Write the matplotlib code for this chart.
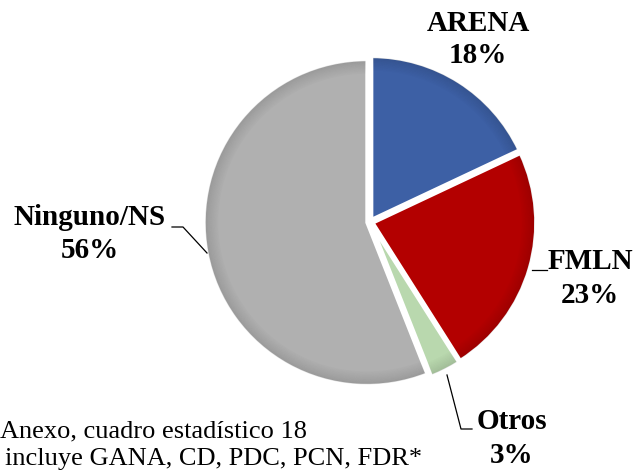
import matplotlib
matplotlib.use("Agg")
import matplotlib.pyplot as plt
from matplotlib.patches import Wedge

labels = ["ARENA", "FMLN", "Otros", "Ninguno/NS"]
values = [18, 23, 3, 56]
colors = ["#3d60a5", "#b30000", "#b9d8ae", "#b0b0b0"]
footer_lines = ["Fuente: Anexo, cuadro estadístico 18", "*Otros incluye GANA, CD, PDC, PCN, FDR*"]

W, H = 639, 472
fig = plt.figure(figsize=(W / 100, H / 100), dpi=100)
ax = fig.add_axes([0, 0, 1, 1])

def Y(y):
    return H - y

cx, cy, r = 370, 222, 163
wedges, _ = ax.pie(values, colors=colors, startangle=90, counterclock=False,
                   center=(cx, Y(cy)), radius=r, explode=[3, 3, 3, 3],
                   wedgeprops=dict(edgecolor="white", linewidth=2.5))
# soft bevel shading near the outer edge of each slice
n_rings = 10
for w in wedges:
    for k in range(n_rings):
        rr = w.r - 1.2 - k * 1.3
        rim = Wedge(w.center, rr, w.theta1 + 0.5, w.theta2 - 0.5, width=1.3,
                    facecolor="black", alpha=0.018 * (n_rings - k) / 1.5,
                    edgecolor="none")
        ax.add_patch(rim)
ax.set_xlim(0, W)
ax.set_ylim(0, H)
ax.set_aspect("equal")
ax.axis("off")

serif = ["Liberation Serif", "DejaVu Serif"]
label_pos = {  # (center x, baseline of name, baseline of pct) in top-down px
    "ARENA": (478, 31, 63),
    "FMLN": (590, 269, 303),
    "Otros": (512, 429, 463),
    "Ninguno/NS": (90, 225, 258),
}
for lab, val in zip(labels, values):
    x, b1, b2 = label_pos[lab]
    ax.text(x, Y(b1), lab, ha="center", va="baseline", fontsize=21, fontweight="bold",
            family=serif)
    ax.text(x, Y(b2), f"{val}%", ha="center", va="baseline", fontsize=21,
            fontweight="bold", family=serif)

# leader lines
lk = dict(color="black", linewidth=0.9)
ax.plot([172, 183, 207], [Y(227), Y(227), Y(253)], **lk)
ax.plot([532, 547], [Y(270), Y(270)], **lk)
ax.plot([447, 461, 472], [Y(375), Y(429), Y(429)], **lk)

# footer (left part is cut in the reference)
ax.text(0, Y(437), footer_lines[0].split(": ", 1)[1], ha="left", va="baseline",
        fontsize=19, family=serif)
ax.text(5, Y(465), footer_lines[1].split("*Otros ", 1)[1], ha="left", va="baseline",
        fontsize=19, family=serif)

fig.savefig("out.png", dpi=100)
